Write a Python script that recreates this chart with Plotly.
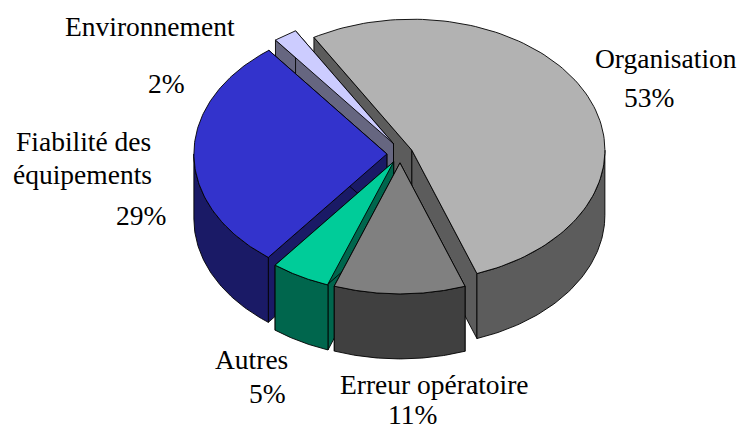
import numpy as np
import plotly.graph_objects as go

# Data
categories = ["Organisation", "Erreur opératoire", "Autres", "Fiabilité des équipements", "Environnement"]
values = [53, 11, 5, 29, 2]
top_colors = ["#B2B2B2", "#808080", "#00CC99", "#3333CC", "#CCCCFF"]
wall_colors = ["#5C5C5C", "#404040", "#00664D", "#1A1A66", "#666680"]
explode_x = [0.068, 0.068, 0.068, 0.068, 0.06]
explode_y = [0.068, 0.068, 0.068, 0.068, 0.095]
draw_order = [0, 4, 3, 2, 1]

# Pie projection
START_DEG = -30.5
CX, CY = 400.0, 154.0
RX, RY = 193.0, 131.0
DEPTH = 65.0

# Labels
label_text = ["Environnement", "2%", "Organisation", "53%", "Fiabilité des", "équipements", "29%",
              "Autres", "5%", "Erreur opératoire", "11%"]
label_x = [150, 166, 666, 649, 83, 82, 141, 251, 267, 434, 412]
label_y = [26, 83, 58, 97, 141, 174, 215, 359, 393, 384, 414]

fractions = np.array(values, dtype=float) / sum(values)
edges = START_DEG + np.concatenate([[0.0], np.cumsum(fractions) * 360.0])


def rim(t_deg, ax, ay):
    t = np.radians(t_deg)
    return ax + RX * np.sin(t), ay - RY * np.cos(t)


def face(fig, xs, ys, color):
    fig.add_trace(go.Scatter(x=xs, y=ys, mode="lines", fill="toself", fillcolor=color,
                             line=dict(color="#000000", width=0.9), hoverinfo="skip", showlegend=False))


fig = go.Figure()
for i in draw_order:
    t0, t1 = edges[i], edges[i + 1]
    mid = np.radians((t0 + t1) / 2)
    ax = CX + explode_x[i] * RX * np.sin(mid)
    ay = CY - explode_y[i] * RY * np.cos(mid)

    # radial cut walls
    for t in (t0, t1):
        px, py = rim(t, ax, ay)
        face(fig, [ax, px, px, ax, ax], [ay, py, py + DEPTH, ay + DEPTH, ay], wall_colors[i])

    # outer wall: only the front half of the rim shows
    lo = max(t0, 90.0)
    hi = min(t1, 270.0)
    if hi > lo:
        ts = np.linspace(lo, hi, 60)
        px, py = rim(ts, ax, ay)
        face(fig, np.concatenate([px, px[::-1], px[:1]]).tolist(),
             np.concatenate([py, py[::-1] + DEPTH, py[:1]]).tolist(), wall_colors[i])

    # top
    ts = np.linspace(t0, t1, 120)
    px, py = rim(ts, ax, ay)
    face(fig, [ax, *px.tolist(), ax], [ay, *py.tolist(), ay], top_colors[i])

annotations = [
    dict(x=x, y=y, text=s, showarrow=False, xanchor="center", yanchor="middle",
         font=dict(family="Liberation Serif", size=27.5, color="#000000"))
    for s, x, y in zip(label_text, label_x, label_y)
]

fig.update_layout(
    width=739, height=430, margin=dict(l=0, r=0, t=0, b=0),
    paper_bgcolor="#FFFFFF", plot_bgcolor="#FFFFFF", showlegend=False,
    xaxis=dict(range=[0, 739], visible=False, fixedrange=True),
    yaxis=dict(range=[430, 0], visible=False, fixedrange=True),
    annotations=annotations,
)
fig.write_html("out.html", config={"displayModeBar": False},
               post_script="document.body.style.margin='0';")
